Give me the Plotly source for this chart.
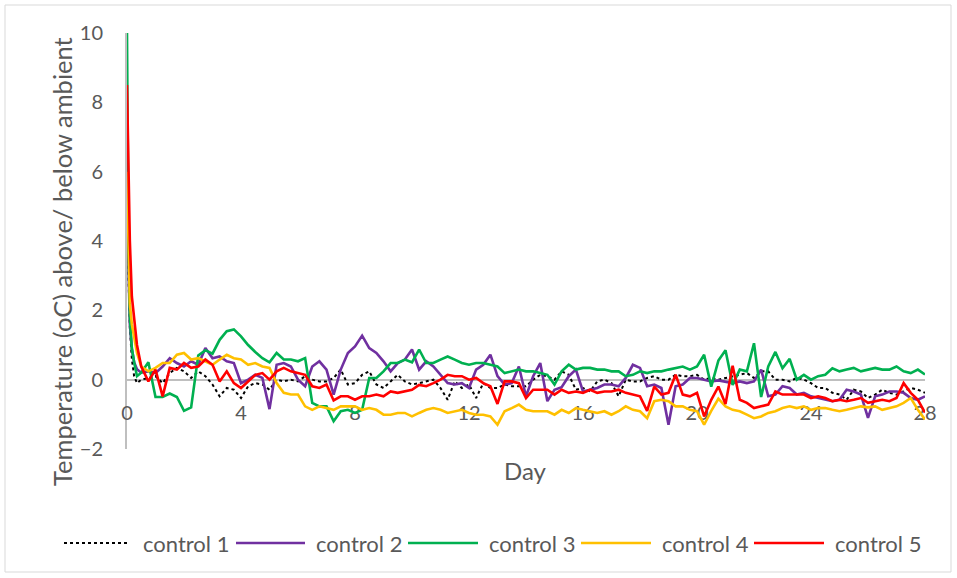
import plotly.graph_objects as go

# 取樣日：起始尖峰處較密，之後每 0.25 天一點
DAYS = [0, 0.05, 0.1, 0.17, 0.25, 0.35] + [0.5 + 0.25 * i for i in range(111)]

# 各組溫差（°C，高於/低於環境），依圖讀值
CONTROL_1 = [
    4.5, 2.5, 1.5, 0.6, 0.1, -0.1,
    0.0, 0.05,
    0.10, -0.10, 0.19, 0.34,  0.24, 0.05, 0.24, 0.10,  -0.14, -0.48, -0.24, -0.29,
    -0.53, -0.19, -0.10, -0.14,  -0.29, 0.0, -0.05, 0.0,  -0.05, 0.10, 0.0, -0.05,
    -0.05, 0.05, 0.29, -0.14,  -0.10, 0.14, 0.24, -0.14,  -0.24, -0.05, 0.14, -0.05,
    -0.14, -0.10, -0.05, 0.0,  -0.24, -0.58, -0.05, -0.24,  -0.14, -0.53, -0.10, -0.24,
    -0.24, -0.14, -0.19, -0.19,  -0.19, 0.0, 0.14, 0.10,  0.0, 0.24, 0.14, -0.29,
    -0.24, -0.34, -0.05, 0.0,  -0.10, -0.48, 0.0, -0.05,  -0.05, 0.05, 0.10, 0.0,
    0.0, 0.14, 0.10, 0.10,  0.14, 0.0, 0.05, 0.0,  0.05, 0.10, 0.14, 0.19,
    0.05, 0.24, 0.24, 0.0,  0.0, -0.05, 0.05, 0.0,  -0.10, -0.24, -0.24, -0.38,
    -0.43, -0.58, -0.29, -0.34,  -0.53, -0.43, -0.29, -0.38,  -0.43, -0.34, -0.24, -0.29,
    -0.38,
]
CONTROL_2 = [
    5.0, 3.0, 1.6, 0.9, 0.5, 0.3,
    0.2, 0.24,
    0.19, 0.38, 0.62, 0.48,  0.38, 0.53, 0.43, 0.91,  0.62, 0.67, 0.53, 0.48,
    -0.10, 0.0, 0.14, 0.05,  -0.85, 0.43, 0.48, 0.38,  0.0, -0.19, 0.38, 0.53,
    0.29, -0.43, 0.29, 0.77,  0.96, 1.27, 0.91, 0.77,  0.53, 0.24, 0.48, 0.58,
    0.87, 0.29, 0.53, 0.38,  0.14, -0.10, -0.14, -0.10,  -0.24, 0.29, 0.43, 0.72,
    0.10, -0.14, -0.10, 0.38,  -0.48, 0.10, 0.48, -0.62,  -0.29, -0.22, 0.10, 0.29,
    -0.34, -0.29, -0.24, -0.14,  -0.14, -0.19, 0.05, 0.43,  0.34, -0.19, -0.14, -0.24,
    -1.30, -0.19, -0.14, 0.05,  0.05, 0.0, -0.05, -0.02,  -0.05, -0.10, -0.05, -0.10,
    -0.05, 0.29, -0.48, -0.43,  -0.19, -0.24, -0.43, -0.38,  -0.48, -0.53, -0.58, -0.62,
    -0.58, -0.29, -0.34, -0.43,  -1.10, -0.48, -0.43, -0.34,  -0.34, -0.38, -0.53, -0.58,
    -0.48,
]
CONTROL_3 = [
    10.0, 4.0, 1.8, 0.9, 0.5, 0.1,
    0.2, 0.5,
    -0.5, -0.5, -0.4, -0.5,  -0.9, -0.8, 0.7, 0.85,  0.75, 1.15, 1.4, 1.45,
    1.25, 1.0, 0.8, 0.62,  0.5, 0.77, 0.58, 0.58,  0.53, 0.62, -0.67, -0.77,
    -0.77, -1.2, -0.91, -0.87,  -0.96, -0.87, 0.05, 0.05,  0.24, 0.48, 0.48, 0.58,
    0.5, 0.87, 0.48, 0.48,  0.58, 0.67, 0.58, 0.48,  0.43, 0.48, 0.48, 0.43,
    0.38, 0.19, 0.24, 0.29,  0.24, 0.24, 0.19, 0.14,  -0.14, 0.24, 0.43, 0.29,
    0.34, 0.34, 0.29, 0.29,  0.24, 0.24, 0.10, 0.14,  0.24, 0.19, 0.24, 0.24,
    0.29, 0.34, 0.38, 0.29,  0.38, 0.72, -0.2, 0.55,  0.85, -0.15, 0.29, 0.24,
    1.05, -0.5, 0.38, 0.8,  0.33, 0.6, 0.0, 0.14,  0.0, 0.10, 0.14, 0.33,
    0.24, 0.29, 0.34, 0.24,  0.29, 0.34, 0.29, 0.29,  0.38, 0.24, 0.19, 0.29,
    0.15,
]
CONTROL_4 = [
    6.0, 3.5, 2.2, 1.6, 1.2, 0.77,
    0.38, 0.24,
    0.34, 0.48, 0.48, 0.72,  0.77, 0.58, 0.62, 0.53,  0.43, 0.58, 0.72, 0.62,
    0.58, 0.43, 0.48, 0.38,  0.34, -0.1, -0.38, -0.43,  -0.43, -0.77, -0.87, -0.77,
    -0.82, -0.87, -0.77, -0.77,  -0.77, -0.87, -0.82, -0.87,  -1.01, -1.01, -0.96, -0.96,
    -1.06, -0.96, -0.87, -0.82,  -0.87, -0.96, -0.91, -0.87,  -0.96, -1.01, -1.01, -1.06,
    -1.3, -0.91, -0.82, -0.72,  -0.87, -0.91, -0.91, -0.91,  -1.01, -0.87, -0.96, -0.82,
    -0.87, -0.91, -0.96, -0.91,  -1.01, -0.91, -0.77, -0.87,  -0.91, -1.11, -0.62, -0.58,
    -0.62, -0.77, -0.77, -0.87,  -0.91, -1.3, -0.9, -0.55,  -0.77, -0.87, -0.91, -1.01,
    -1.11, -1.06, -0.96, -0.91,  -0.82, -0.77, -0.82, -0.77,  -0.87, -0.82, -0.82, -0.87,
    -0.91, -0.87, -0.82, -0.77,  -0.80, -0.77, -0.87, -0.82,  -0.77, -0.67, -0.53, -0.87,
    -1.15,
]
CONTROL_5 = [
    8.5, 5.5, 4.0, 2.4, 1.7, 1.0,
    0.38, -0.05,
    0.29, -0.48, 0.34, 0.29,  0.48, 0.34, 0.38, 0.58,  0.43, -0.05, 0.24, -0.10,
    -0.24, -0.05, 0.14, 0.19,  0.0, 0.24, 0.34, 0.24,  0.19, 0.14, -0.19, -0.24,
    -0.14, -0.6, -0.48, -0.48,  -0.58, -0.48, -0.48, -0.43,  -0.48, -0.34, -0.38, -0.34,
    -0.29, -0.15, -0.19, -0.10,  0.0, 0.14, 0.10, 0.10,  0.0, 0.05, -0.10, -0.19,
    -0.7, -0.05, -0.05, -0.10,  -0.53, -0.29, -0.29, -0.29,  -0.43, -0.29, -0.38, -0.34,
    -0.38, -0.29, -0.38, -0.34,  -0.34, -0.29, -0.38, -0.43,  -0.48, -0.9, -0.2, -0.43,
    -0.38, 0.14, -0.43, -0.48,  -0.38, -1.06, -0.58, -0.2,  -0.7, 0.4, -0.58, -0.67,
    -0.82, -0.77, -0.72, -0.34,  -0.43, -0.43, -0.43, -0.43,  -0.53, -0.48, -0.53, -0.62,
    -0.58, -0.62, -0.58, -0.53,  -0.67, -0.62, -0.58, -0.62,  -0.53, -0.10, -0.38, -0.58,
    -0.95,
]

NAMES = ["control 1", "control 2", "control 3", "control 4", "control 5"]
VALUES = [CONTROL_1, CONTROL_2, CONTROL_3, CONTROL_4, CONTROL_5]
X_TICKS = [0, 4, 8, 12, 16, 20, 24, 28]
Y_TICKS = [-2, 0, 2, 4, 6, 8, 10]

COLORS = ["#000000", "#7030A0", "#00B050", "#FFC000", "#FF0000"]
DASHES = ["dot", "solid", "solid", "solid", "solid"]
WIDTHS = [2, 2.6, 2.6, 2.6, 2.6]

TXT = "#595959"
AXIS_C = "#bfbfbf"
FONT = "Lato"

# 版面像素 → paper 座標
L, R, T, B, W, H = 127, 32, 33, 129, 957, 578
PW, PH = W - L - R, H - T - B


def px_x(px):
    return (px - L) / PW


def px_y(py):
    return (H - B - py) / PH


fig = go.Figure()
for name, vals, c, d, w in zip(NAMES, VALUES, COLORS, DASHES, WIDTHS):
    assert len(vals) == len(DAYS), name
    fig.add_trace(go.Scatter(
        x=DAYS, y=vals, mode="lines", name=name,
        line=dict(color=c, dash=d, width=w),
    ))

fig.update_layout(
    width=W, height=H,
    margin=dict(l=L, r=R, t=T, b=B),
    plot_bgcolor="white", paper_bgcolor="white",
    showlegend=False,
    font=dict(family=FONT, color=TXT),
)
fig.update_xaxes(
    range=[0, 28], tickvals=X_TICKS, showgrid=False, zeroline=False,
    showline=True, linecolor=AXIS_C, linewidth=2, layer="below traces",
    anchor="free", position=1 / 6, ticks="", ticklabelstandoff=15,
    tickfont=dict(size=20, color=TXT),
)
fig.update_yaxes(
    range=[-2, 10], tickvals=Y_TICKS, showgrid=False, zeroline=False,
    showline=True, linecolor=AXIS_C, linewidth=2, layer="below traces",
    ticks="", ticklabelstandoff=18, tickfont=dict(size=20, color=TXT),
)

# 外框
fig.add_shape(type="rect", xref="paper", yref="paper",
              x0=px_x(5), x1=px_x(951), y0=px_y(572), y1=px_y(5),
              line=dict(color="#d9d9d9", width=1), layer="below")

annots = [
    dict(text="Day", x=px_x(525), y=px_y(470), font=dict(size=24)),
    dict(text="Temperature (oC) above/ below ambient", x=px_x(62), y=px_y(262),
         textangle=-90, font=dict(size=25.5)),
]

# 圖例（手動畫，線段較長，仿 Excel）
LEG_Y = px_y(543)
LINE_PX = [(64, 130), (236, 305), (408, 478), (581, 651), (754, 824)]
TEXT_PX = [141, 314, 487, 660, 833]
for name, c, d, w, (a, b), t in zip(NAMES, COLORS, DASHES, WIDTHS, LINE_PX, TEXT_PX):
    fig.add_shape(type="line", xref="paper", yref="paper",
                  x0=px_x(a), x1=px_x(b), y0=LEG_Y, y1=LEG_Y,
                  line=dict(color=c, dash=d, width=w))
    annots.append(dict(text=name, x=px_x(t), y=LEG_Y, xanchor="left",
                       font=dict(size=22)))

for a in annots:
    a.setdefault("xanchor", "center")
    fig.add_annotation(xref="paper", yref="paper", showarrow=False,
                       yanchor="middle", **a)

# 去掉頁面預設的 body 邊距，讓圖貼齊視窗；不顯示工具列
fig.write_html("out.html", config={"displayModeBar": False},
               post_script="document.body.style.margin='0';")
